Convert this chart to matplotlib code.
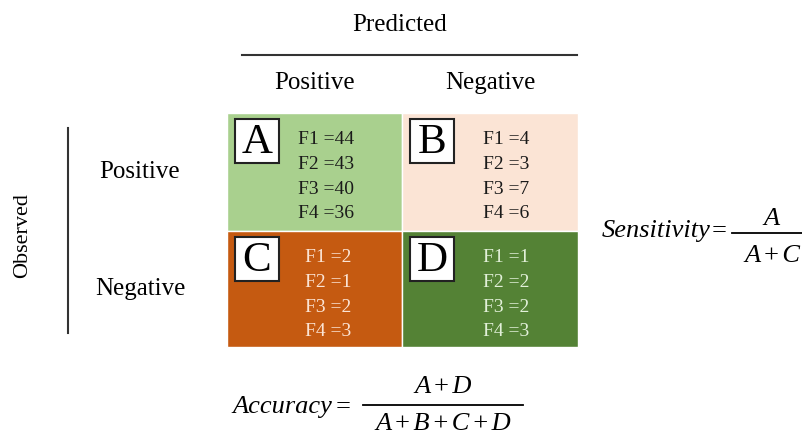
import matplotlib
matplotlib.use("Agg")
import matplotlib.pyplot as plt
from matplotlib.patches import Rectangle

plt.rcParams['font.family'] = ['Liberation Serif', 'DejaVu Serif']

# confusion matrix content (rows = observed, cols = predicted)
cell_letters = [['A', 'B'], ['C', 'D']]
cell_counts = [
    [[44, 43, 40, 36], [4, 3, 7, 6]],
    [[2, 1, 2, 3], [1, 2, 2, 3]],
]
feature_names = ['F1', 'F2', 'F3', 'F4']
col_labels = ['Positive', 'Negative']
row_labels = ['Positive', 'Negative']

cell_bg = [['#a9d08e', '#fbe4d5'], ['#c55a11', '#548235']]
cell_fg = [['#1a1a1a', '#1a1a1a'], ['#fbe4d5', '#e2f0d9']]

fig = plt.figure(figsize=(8.02, 4.34), dpi=100)
ax = fig.add_axes([0, 0, 1, 1])
ax.set_xlim(0, 802)
ax.set_ylim(434, 0)
ax.axis('off')

# grid geometry in pixels
x0, xm, x1 = 227, 402, 578
y0, ym, y1 = 113, 231, 347
xs = [(x0, xm), (xm, x1)]
ys = [(y0, ym), (ym, y1)]

for r in range(2):
    for c in range(2):
        (a, b), (t, bt) = xs[c], ys[r]
        ax.add_patch(Rectangle((a, t), b - a, bt - t, facecolor=cell_bg[r][c], edgecolor='white', lw=1))
        # letter box
        bx, by = a + 8, t + 6
        ax.add_patch(Rectangle((bx, by), 44, 44, facecolor='white', edgecolor='#222222', lw=1.5))
        ax.text(bx + 22, by + 24, cell_letters[r][c], fontsize=31, ha='center', va='center', color='black')
        # counts
        tx = a + 71 if c == 0 else a + 81
        if r == 1 and c == 0:
            tx = a + 78
        for i, (name, val) in enumerate(zip(feature_names, cell_counts[r][c])):
            ax.text(tx, t + 27 + i * 24.5, f'{name} ={val}', fontsize=14, ha='left', va='center',
                    color=cell_fg[r][c])

# header
ax.text(400, 25, 'Predicted', fontsize=18, ha='center', va='center')
ax.plot([242, 577], [55, 55], color='#333333', lw=1.5)
for c, lab in enumerate(col_labels):
    ax.text(sum(xs[c]) / 2, 83, lab, fontsize=18, ha='center', va='center')

# side labels
ax.text(23, 236, 'Observed', fontsize=16, ha='center', va='center', rotation=90)
ax.plot([68, 68], [128, 333], color='#333333', lw=1.5)
for r, lab in enumerate(row_labels):
    ax.text(140, 172 if r == 0 else 289, lab, fontsize=18, ha='center', va='center')

HS = '\u200a'  # hair space around the operators


def fraction(lhs, x_lhs, base, x_eq, bar_y, num, num_base, den, den_base, x_bar0, x_bar1):
    ax.text(x_lhs, base, lhs, fontsize=19, style='italic', ha='left', va='baseline')
    ax.text(x_eq, base, '=', fontsize=19, ha='left', va='baseline')
    ax.plot([x_bar0, x_bar1], [bar_y, bar_y], color='black', lw=1.3)
    xc = (x_bar0 + x_bar1) / 2
    ax.text(xc, num_base, num, fontsize=19, style='italic', ha='center', va='baseline')
    ax.text(xc, den_base, den, fontsize=19, style='italic', ha='center', va='baseline')


fraction('Sensitivity', 602, 237, 712, 233, 'A', 225, HS.join(['A', '+', 'C']), 262, 732, 812)
fraction('Accuracy', 232, 413, 336, 405, HS.join(['A', '+', 'D']), 393,
         HS.join(['A', '+', 'B', '+', 'C', '+', 'D']), 430, 363, 523)

fig.savefig('out.png', dpi=100)
